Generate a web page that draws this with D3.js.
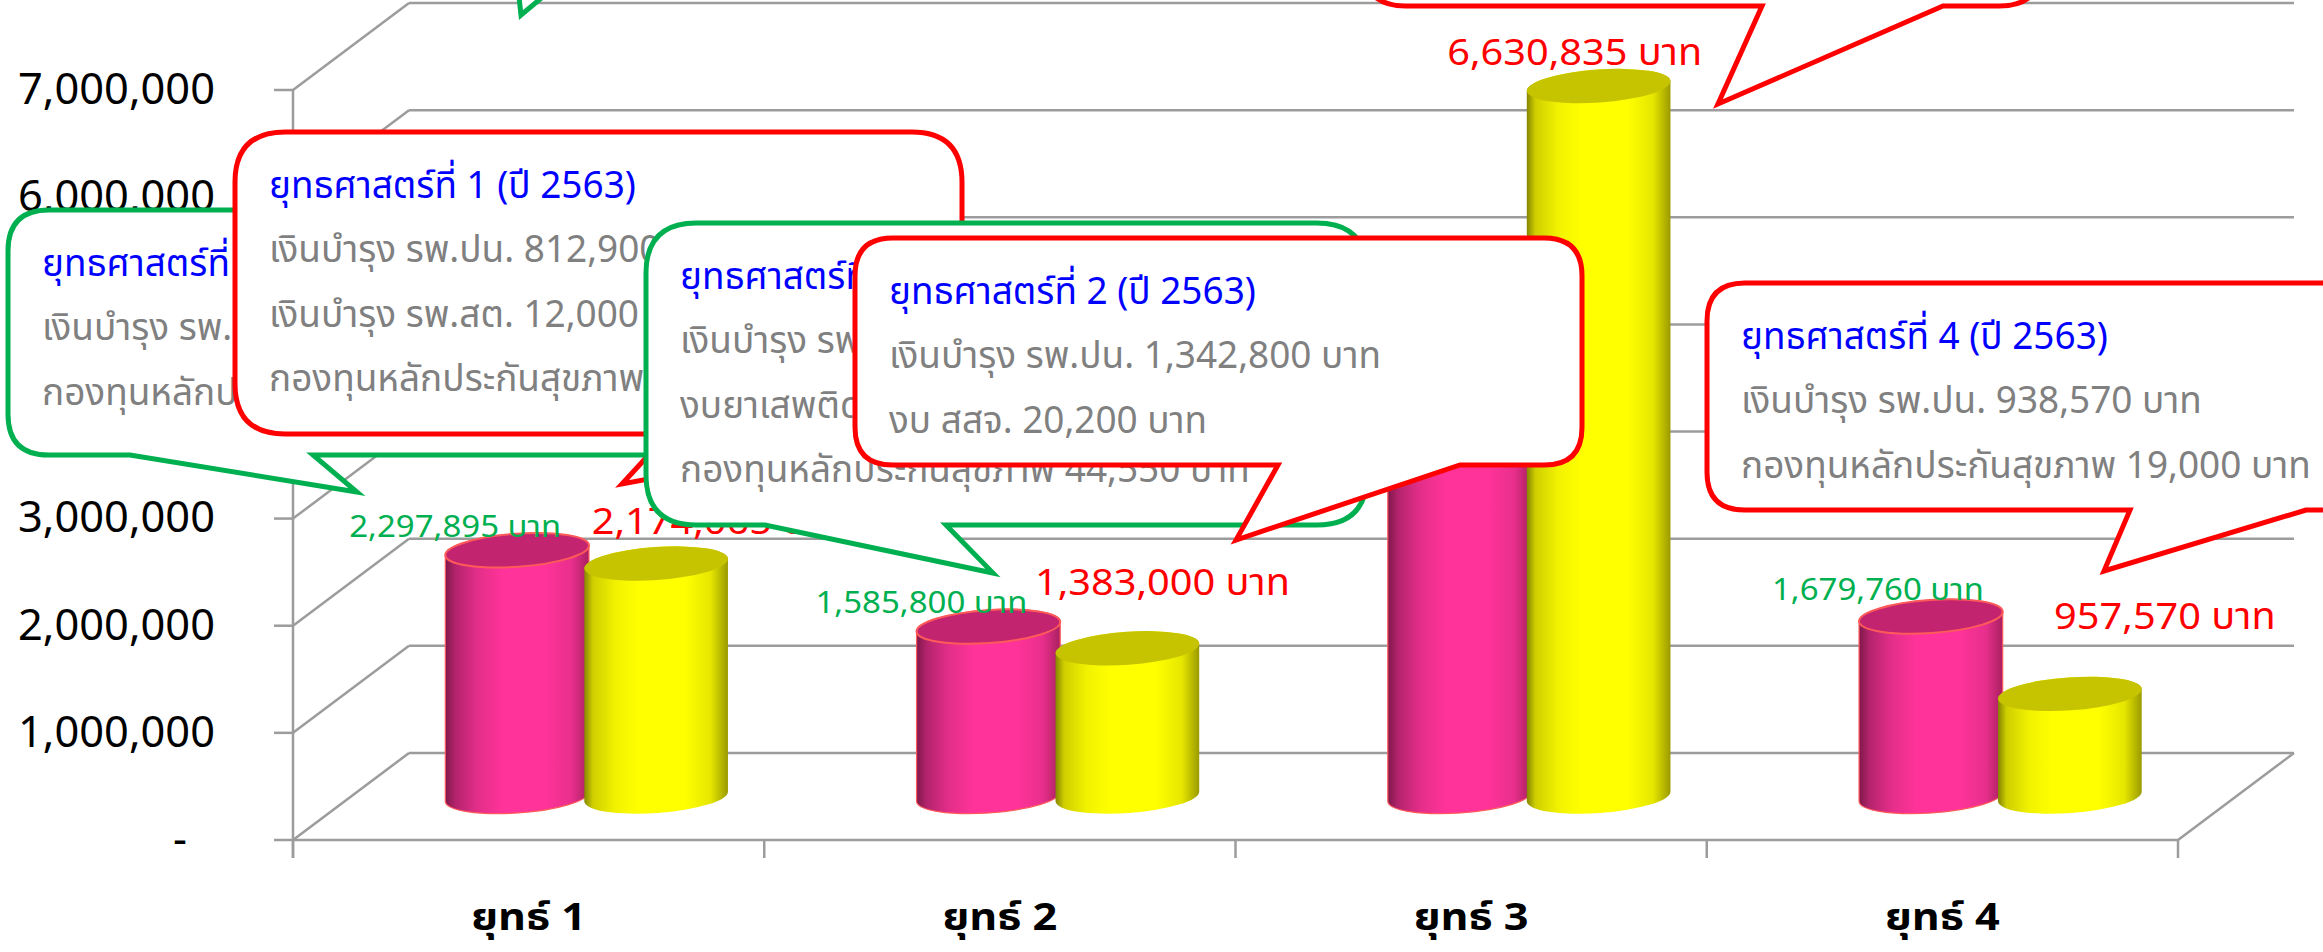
<!DOCTYPE html>
<html>
<head>
<meta charset="utf-8">
<script src="https://cdn.jsdelivr.net/npm/d3@7"></script>
<style>
html, body { margin: 0; padding: 0; background: #fff; }
svg { display: block; font-family: "Noto Sans Thai", "Noto Sans", Loma, Garuda, sans-serif; }
</style>
</head>
<body>
<svg id="chart"></svg>
<script>
const width = 2323, height = 952;

// ---- data ----
const categories = ['ยุทธ์ 1', 'ยุทธ์ 2', 'ยุทธ์ 3', 'ยุทธ์ 4'];
const seriesKeys = ['plan', 'actual'];
const planValues = [2297895, 1585800, 4000000, 1679760];     // pink, green labels
const actualValues = [2174065, 1383000, 6630835, 957570];    // yellow, red labels
const yTicks = [0, 1000000, 2000000, 3000000, 4000000, 5000000, 6000000, 7000000];

// callout text (drawing order); the two at the top sit above the picture
const noteText = [
	['ยุทธศาสตร์ที่ 1 (ปี 2564)', 'เงินบำรุง รพ.ปน. 2,248,345 บาท', 'กองทุนหลักประกันสุขภาพ 49,550 บาท'],
	['ยุทธศาสตร์ที่ 1 (ปี 2563)', 'เงินบำรุง รพ.ปน. 812,900 บาท', 'เงินบำรุง รพ.สต. 12,000 บาท', 'กองทุนหลักประกันสุขภาพ 1,349,165 บาท'],
	['ยุทธศาสตร์ที่ 2 (ปี 2564)', 'เงินบำรุง รพ.ปน. 1,521,050 บาท', 'งบยาเสพติด 20,200 บาท', 'กองทุนหลักประกันสุขภาพ 44,550 บาท'],
	['ยุทธศาสตร์ที่ 2 (ปี 2563)', 'เงินบำรุง รพ.ปน. 1,342,800 บาท', 'งบ สสจ. 20,200 บาท'],
	[],
	[],
	['ยุทธศาสตร์ที่ 4 (ปี 2563)', 'เงินบำรุง รพ.ปน. 938,570 บาท', 'กองทุนหลักประกันสุขภาพ 19,000 บาท']
];

// ---- layout ----
const GREEN = '#00B050', RED = '#FF0000';
// box [x0, y0, x1, y1], tail [baseRight, tipX, tipY, baseLeft] on the bottom edge
const noteLayout = [
	{ c: GREEN, box: [8, 210, 700, 455], tail: [313, 357, 492, 130] },
	{ c: RED, box: [235, 132, 962, 434], tail: [890, 622, 484, 668] },
	{ c: GREEN, box: [646, 223, 1367, 525], tail: [946, 993, 573, 765] },
	{ c: RED, box: [855, 238, 1582, 465], tail: [1460, 1236, 540, 1278] },
	{ c: GREEN, box: [300, -260, 1000, -30], tail: [575, 521, 15, 516] },
	{ c: RED, box: [1363, -250, 2042, 6], tail: [1943, 1718, 104, 1762] },
	{ c: RED, box: [1707, 283, 2380, 510], tail: [2306, 2104, 571, 2130] }
];
// data label nudges from the cylinder top centre
const planNudge = [[-62, -24], [-67, -24], [-60, -25], [-53, -27]];
const actualNudge = [[63, -43], [35, -67], [-24, -34], [95, -78]];

const DX = 116, DY = -87;   // depth of the 3d box
const svg = d3.select('#chart').attr('width', width).attr('height', height);
svg.append('rect').attr('width', width).attr('height', height).attr('fill', '#fff');

const x = d3.scaleBand().domain(categories).range([293, 2178]);
const y = d3.scaleLinear().domain([0, 7000000]).range([840, 90]);
const sub = d3.scaleBand().domain(seriesKeys).range([-139, 139]);

// text helpers: measure a string and get a horizontal squeeze factor
function measure(str, size, weight) {
	let t = svg.append('text').attr('font-size', size).attr('font-weight', weight || 'normal').text(str);
	let w = t.node().getComputedTextLength();
	t.remove();
	return w;
}
const fTick = 197 / measure('7,000,000', 44);
const fCat = 115 / measure('ยุทธ์ 1', 38, 'bold');
const fGreen = 212 / measure('2,297,895 บาท', 30);
const fRed = 255 / measure('1,383,000 บาท', 37);
const fNote = 492 / measure('เงินบำรุง รพ.ปน. 1,342,800 บาท', 38);

function putText(g, str, px, py, size, sx, opts) {
	return g.append('text')
		.attr('transform', `translate(${px},${py}) scale(${sx},1)`)
		.attr('dy', '0.36em')
		.attr('font-size', size)
		.attr('font-weight', opts.weight || 'normal')
		.attr('text-anchor', opts.anchor || 'start')
		.attr('fill', opts.fill || '#000')
		.text(str);
}

///////// walls and floor
const gridColor = '#9C9C9C';
const grid = svg.append('g').attr('stroke', gridColor).attr('stroke-width', 2.5).attr('fill', 'none');
// back wall gridlines
grid.selectAll('line.back').data(yTicks).join('line')
	.attr('x1', 293 + DX).attr('x2', 2178 + DX)
	.attr('y1', d => y(d) + DY).attr('y2', d => y(d) + DY);
// side wall gridlines
grid.selectAll('line.side').data(yTicks).join('line')
	.attr('x1', 293).attr('x2', 293 + DX)
	.attr('y1', d => y(d)).attr('y2', d => y(d) + DY);
// floor front + right edge
grid.append('path').attr('d', `M293,${y(0)}H2178L${2178 + DX},${y(0) + DY}`);
// value axis + ticks
grid.append('line').attr('x1', 293).attr('x2', 293).attr('y1', y(7000000)).attr('y2', y(0) + 18);
grid.selectAll('line.ytick').data(yTicks).join('line')
	.attr('x1', 274).attr('x2', 293).attr('y1', d => y(d)).attr('y2', d => y(d));
// category ticks
const bounds = categories.map(c => x(c)).concat([x.range()[1]]);
grid.selectAll('line.xtick').data(bounds).join('line')
	.attr('x1', d => d).attr('x2', d => d).attr('y1', y(0)).attr('y2', y(0) + 18);

// axis labels
const axisG = svg.append('g');
for (let t of yTicks) {
	putText(axisG, t === 0 ? '-' : d3.format(',')(t), t === 0 ? 187 : 215, y(t) - 2, 44, fTick, { anchor: 'end' });
}
for (let c of categories) {
	putText(axisG, c, x(c) + x.bandwidth() / 2, 916, 38, fCat, { anchor: 'middle', weight: 'bold' });
}

///////// cylinders
const defs = svg.append('defs');
function grad(id, stops) {
	let g = defs.append('linearGradient').attr('id', id).attr('x1', 0).attr('x2', 1).attr('y1', 0).attr('y2', 0);
	for (let [o, c] of stops) g.append('stop').attr('offset', o).attr('stop-color', c);
}
grad('pinkBody', [[0, '#7E184A'], [0.07, '#B3236C'], [0.22, '#E22E88'], [0.4, '#FF3399'], [0.7, '#FF3399'], [0.88, '#E82F8C'], [1, '#A8205F']]);
grad('yellowBody', [[0, '#858500'], [0.06, '#CFCF00'], [0.22, '#F2F200'], [0.38, '#FFFF00'], [0.7, '#FFFF00'], [0.88, '#E6E600'], [1, '#9A9A00']]);
const look = {
	plan: { body: 'url(#pinkBody)', top: '#C2246F', stroke: '#FF5A5A' },
	actual: { body: 'url(#yellowBody)', top: '#C6C300', stroke: 'none' }
};

const A = 72, B = 16.5, TILT = -4;   // ellipse radii and tilt
const ca = Math.cos(TILT * Math.PI / 180), sa = Math.sin(TILT * Math.PI / 180);
const bars = [];
categories.forEach((c, i) => {
	bars.push({ key: 'plan', cat: c, value: planValues[i], i });
	bars.push({ key: 'actual', cat: c, value: actualValues[i], i });
});
bars.forEach(d => {
	d.cx = x(d.cat) + x.bandwidth() / 2 + DX / 2 + sub(d.key) + sub.bandwidth() / 2;
	d.yb = y(0) + DY / 2;
	d.yt = y(d.value) + DY / 2;
});

const barG = svg.append('g');
barG.selectAll('g').data(bars).join('g').each(function (d) {
	let g = d3.select(this);
	let lx = d.cx - A * ca, rx = d.cx + A * ca, ly = -A * sa, ry = A * sa;
	let path = `M${lx},${d.yt + ly}L${lx},${d.yb + ly}`
		+ `A${A},${B} ${TILT} 0 0 ${rx},${d.yb + ry}`
		+ `L${rx},${d.yt + ry}`
		+ `A${A},${B} ${TILT} 0 0 ${lx},${d.yt + ly}Z`;
	g.append('path').attr('d', path).attr('fill', look[d.key].body)
		.attr('stroke', look[d.key].stroke).attr('stroke-width', 1.2);
	g.append('ellipse').attr('cx', d.cx).attr('cy', d.yt).attr('rx', A).attr('ry', B)
		.attr('transform', `rotate(${TILT},${d.cx},${d.yt})`)
		.attr('fill', look[d.key].top).attr('stroke', look[d.key].stroke).attr('stroke-width', 2);
});

// data labels
const lblG = svg.append('g');
bars.forEach(d => {
	let n = d.key === 'plan' ? planNudge[d.i] : actualNudge[d.i];
	let s = d3.format(',')(d.value) + ' บาท';
	if (d.key === 'plan') putText(lblG, s, d.cx + n[0], d.yt + n[1], 30, fGreen, { anchor: 'middle', fill: GREEN });
	else putText(lblG, s, d.cx + n[0], d.yt + n[1], 37, fRed, { anchor: 'middle', fill: RED });
});

///////// callouts
function calloutPath(b, t) {
	let [x0, y0, x1, y1] = b;
	let r = Math.min(x1 - x0, y1 - y0) / 6;
	return `M${x0 + r},${y0}H${x1 - r}Q${x1},${y0} ${x1},${y0 + r}`
		+ `V${y1 - r}Q${x1},${y1} ${x1 - r},${y1}`
		+ `H${t[0]}L${t[1]},${t[2]}L${t[3]},${y1}`
		+ `H${x0 + r}Q${x0},${y1} ${x0},${y1 - r}`
		+ `V${y0 + r}Q${x0},${y0} ${x0 + r},${y0}Z`;
}
const noteG = svg.append('g');
noteLayout.forEach((L, k) => {
	let g = noteG.append('g');
	g.append('path').attr('d', calloutPath(L.box, L.tail))
		.attr('fill', '#fff').attr('stroke', L.c).attr('stroke-width', 5).attr('stroke-linejoin', 'miter');
	noteText[k].forEach((line, j) => {
		putText(g, line, L.box[0] + 34, L.box[1] + 52 + j * 64.5, 38, fNote, { fill: j === 0 ? '#0000FF' : '#808080' });
	});
});
</script>
</body>
</html>
